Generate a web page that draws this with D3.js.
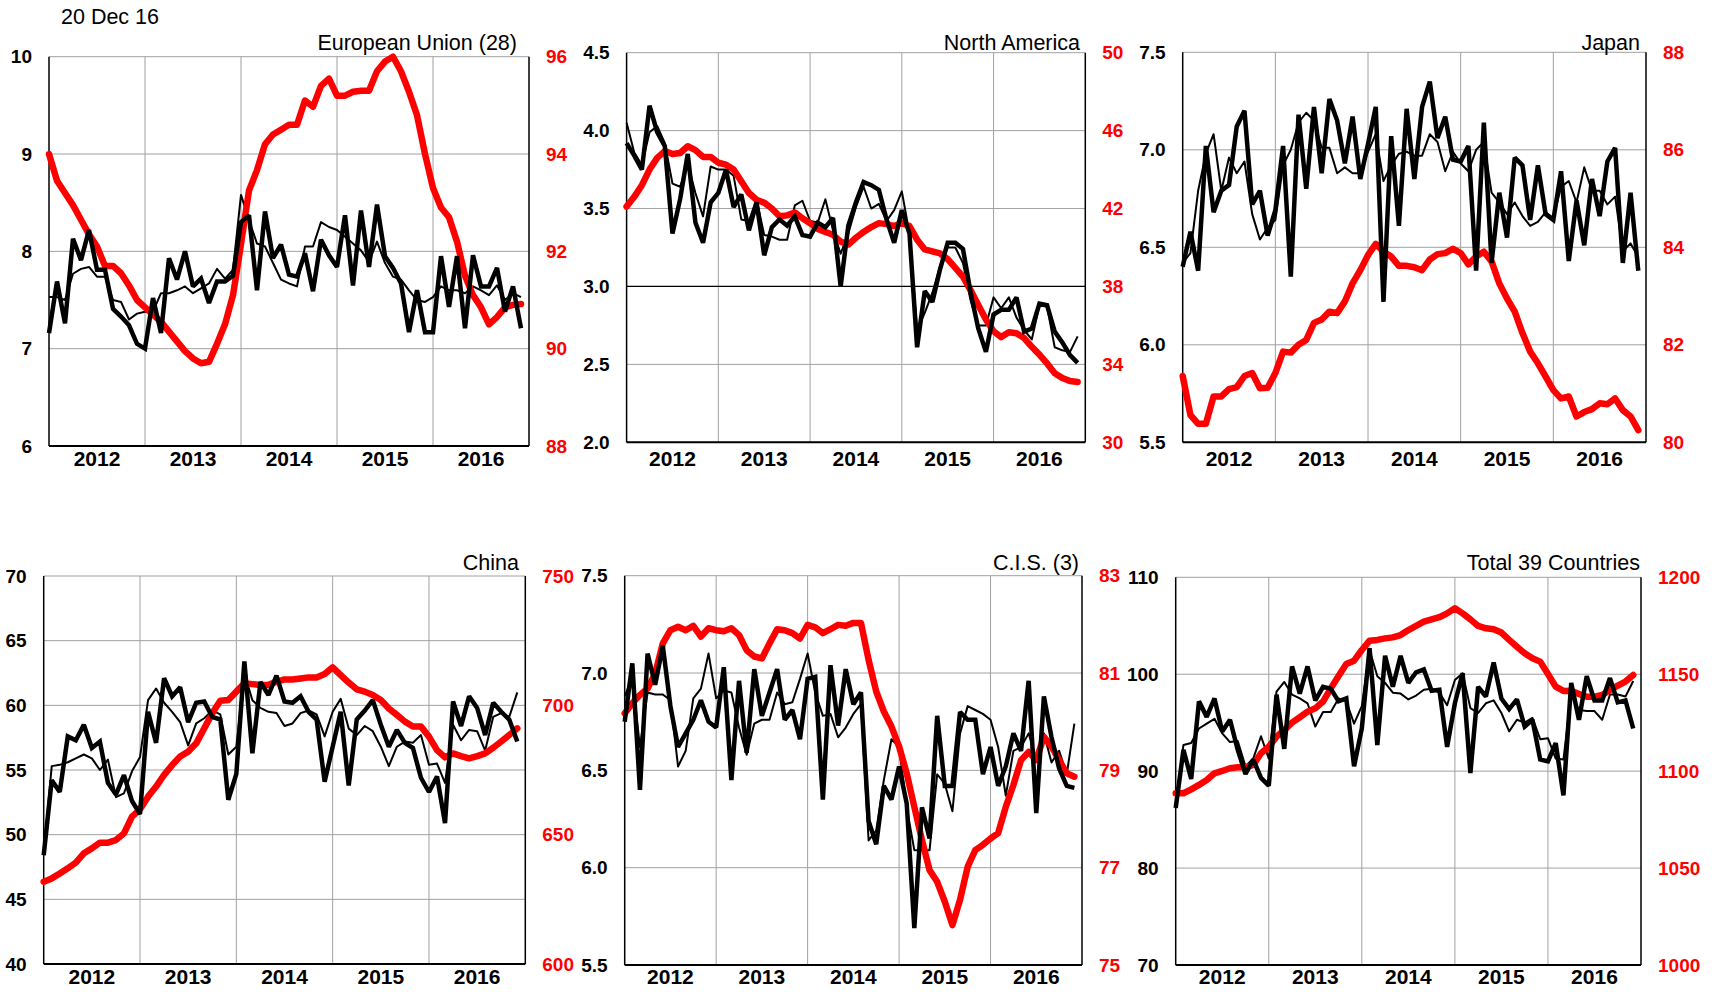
<!DOCTYPE html>
<html><head>
<meta charset="utf-8"/>
<title>Regional panels</title>
<script src="https://d3js.org/d3.v7.min.js"></script>
<style>
  body { margin: 0; padding: 0; background: #fff; width: 1715px; height: 992px; overflow: hidden; }
  svg { font-family: 'Liberation Sans', Arial, sans-serif; }
  .tick-l { font-size: 19px; font-weight: bold; fill: #000; }
  .tick-r { font-size: 19px; font-weight: bold; fill: #ff0000; }
  .year { font-size: 21px; font-weight: bold; fill: #000; }
  .title { font-size: 21.5px; fill: #000; }
</style>
</head>
<body>
<div id="chart"></div>
<script>
// x categories: 60 monthly points, gridlines at year starts
const years = ["2012", "2013", "2014", "2015", "2016"];
const stamp = "20 Dec 16";

// European Union (28)
const euMonthly = [7.16,7.69,7.26,8.13,7.91,8.22,7.81,7.81,7.41,7.33,
  7.24,7.05,7.0,7.52,7.16,7.93,7.71,8.0,7.64,7.72,
  7.47,7.69,7.69,7.75,8.3,8.37,7.6,8.41,7.93,8.07,
  7.76,7.74,7.98,7.59,8.12,7.96,7.84,8.37,7.65,8.42,
  7.84,8.48,7.95,7.83,7.67,7.17,7.6,7.17,7.17,7.95,
  7.43,7.95,7.21,7.96,7.64,7.64,7.83,7.38,7.64,7.21];
const euSA = [7.53,7.53,7.5,7.77,7.82,7.84,7.74,7.74,7.5,7.48,
  7.3,7.36,7.38,7.38,7.57,7.57,7.6,7.64,7.57,7.62,
  7.67,7.82,7.72,7.81,8.58,8.32,8.08,8.05,7.88,7.71,
  7.67,7.64,8.05,8.05,8.3,8.25,8.22,8.15,8.08,8.01,
  7.89,8.1,7.88,7.74,7.71,7.6,7.5,7.48,7.53,7.64,
  7.6,7.6,7.57,7.64,7.6,7.55,7.65,7.5,7.57,7.53];
const euRolling = [94.0,93.45,93.2,92.95,92.65,92.35,92.1,91.7,91.7,91.55,
  91.3,91.0,90.85,90.7,90.55,90.35,90.15,89.95,89.8,89.7,
  89.73,90.1,90.5,91.1,92.15,93.25,93.67,94.2,94.4,94.5,
  94.6,94.6,95.1,94.97,95.4,95.55,95.2,95.2,95.28,95.3,
  95.3,95.7,95.9,96.0,95.7,95.28,94.8,94.0,93.3,92.9,
  92.7,92.2,91.5,91.1,90.85,90.5,90.65,90.85,90.9,90.92];

// North America
const naMonthly = [3.92,3.84,3.75,4.16,3.99,3.9,3.34,3.56,3.85,3.41,
  3.28,3.54,3.6,3.75,3.51,3.59,3.36,3.54,3.2,3.38,
  3.43,3.39,3.45,3.33,3.32,3.41,3.38,3.44,3.0,3.39,
  3.54,3.67,3.65,3.62,3.43,3.28,3.49,3.34,2.61,2.97,
  2.9,3.11,3.28,3.28,3.24,2.96,2.73,2.58,2.82,2.85,
  2.85,2.93,2.71,2.73,2.89,2.88,2.71,2.64,2.56,2.51];
const naSA = [4.05,3.86,3.78,3.99,4.03,3.92,3.66,3.64,3.79,3.6,
  3.45,3.77,3.75,3.75,3.71,3.43,3.42,3.56,3.33,3.32,
  3.3,3.3,3.52,3.55,3.42,3.41,3.56,3.36,3.21,3.34,
  3.51,3.64,3.5,3.53,3.42,3.49,3.61,3.34,2.72,2.83,
  2.96,3.13,3.25,3.25,3.15,2.91,2.75,2.75,2.93,2.86,
  2.93,2.8,2.72,2.66,2.88,2.87,2.61,2.59,2.58,2.68];
const naRolling = [42.1,42.6,43.2,44.0,44.6,44.95,44.8,44.85,45.2,45.0,
  44.65,44.65,44.35,44.25,44.0,43.4,42.8,42.45,42.3,42.0,
  41.6,41.65,41.8,41.5,41.25,40.95,40.8,40.65,40.3,40.15,
  40.5,40.8,41.05,41.25,41.2,41.1,41.25,41.1,40.4,39.9,
  39.8,39.7,39.4,38.95,38.5,37.8,37.05,36.3,35.7,35.4,
  35.65,35.6,35.35,34.9,34.5,34.05,33.55,33.3,33.15,33.1];

// Japan
const jpMonthly = [6.4,6.58,6.38,7.02,6.68,6.79,6.82,7.12,7.2,6.72,
  6.79,6.56,6.69,7.02,6.35,7.18,6.8,7.22,6.88,7.26,
  7.15,6.93,7.17,6.85,7.03,7.22,6.22,7.07,6.61,7.21,
  6.85,7.22,7.35,7.06,7.17,6.95,6.94,7.02,6.38,7.14,
  6.42,6.78,6.55,6.96,6.92,6.64,6.92,6.67,6.64,6.89,
  6.43,6.74,6.51,6.85,6.66,6.94,7.01,6.42,6.78,6.38];
const jpSA = [6.42,6.47,6.79,6.98,7.08,6.79,6.96,6.88,6.94,6.67,
  6.54,6.6,6.64,6.92,7.0,7.14,7.19,7.15,7.01,7.01,
  6.88,6.91,6.88,6.88,6.99,7.08,6.84,6.92,6.98,6.99,
  6.97,6.97,7.08,7.04,6.89,6.99,6.93,6.89,7.0,7.04,
  6.78,6.73,6.67,6.73,6.66,6.61,6.63,6.68,6.65,6.81,
  6.84,6.73,6.91,6.79,6.79,6.72,6.76,6.48,6.52,6.45];
const jpRolling = [81.36,80.56,80.38,80.38,80.94,80.94,81.09,81.13,81.36,81.42,
  81.11,81.12,81.42,81.86,81.84,82.0,82.1,82.45,82.52,82.68,
  82.65,82.89,83.26,83.53,83.84,84.07,83.91,83.81,83.62,83.62,
  83.59,83.53,83.75,83.86,83.88,83.97,83.88,83.65,83.81,83.91,
  83.71,83.26,82.95,82.68,82.24,81.86,81.62,81.35,81.07,80.9,
  80.94,80.53,80.62,80.68,80.8,80.78,80.9,80.66,80.53,80.25];

// China
const cnMonthly = [48.4,54.2,53.3,57.6,57.3,58.5,56.7,57.2,54.0,53.1,
  54.6,52.6,51.6,59.5,57.1,62.1,60.7,61.4,58.7,60.2,
  60.3,59.1,58.9,52.7,54.7,63.4,56.3,61.8,60.8,62.3,
  60.3,60.2,60.7,59.5,58.9,54.1,56.8,59.5,53.8,58.9,
  59.6,60.4,58.5,56.8,58.1,57.1,56.7,54.4,53.3,54.5,
  50.9,60.3,58.4,60.7,59.8,57.7,60.2,59.5,58.9,57.2];
const cnSA = [48.5,55.3,55.4,55.6,55.9,56.2,55.9,55.0,55.8,52.9,
  53.2,54.9,56.0,60.4,61.3,60.2,59.5,58.7,56.9,58.6,
  59.0,59.6,59.3,56.2,56.8,62.5,60.4,59.8,59.5,59.4,
  58.4,58.6,59.4,59.6,59.3,57.6,59.5,60.5,58.2,57.7,
  58.4,58.0,56.8,55.3,56.8,57.2,57.1,57.7,55.4,55.5,
  54.0,58.5,57.3,58.1,58.0,56.5,59.1,59.4,59.1,61.0];
const cnRolling = [631.8,633.1,635,637,639.2,642.8,644.7,646.9,646.9,647.9,
  650.5,657,659.8,664.7,668.6,673.1,676.9,680.2,682.1,685.3,
  691.1,696.9,701.8,702.1,705.3,708.5,708.2,707.9,707.9,709.1,
  710,710,710.4,710.8,710.8,712.1,714.7,711.7,708.8,706.2,
  705.3,704,702.1,698.8,696.3,693.7,691.8,691.8,687.9,682.7,
  679.9,681.4,680.4,679.5,680.4,681.4,683.6,686,688.5,691.1];

// C.I.S. (3)
const cisMonthly = [6.75,7.05,6.4,7.1,6.94,7.14,6.83,6.62,6.69,6.76,
  6.86,6.75,6.72,7.03,6.45,6.96,6.59,7.02,6.78,6.9,
  7.02,6.76,6.81,6.66,6.97,6.98,6.35,7.04,6.73,7.02,
  6.84,6.9,6.24,6.12,6.42,6.35,6.52,6.33,5.69,6.31,
  6.15,6.78,6.42,6.42,6.8,6.76,6.76,6.48,6.62,6.42,
  6.52,6.69,6.6,6.96,6.28,6.88,6.67,6.51,6.42,6.41];
const cisSA = [6.88,6.98,6.62,6.9,6.89,6.89,6.86,6.52,6.6,6.87,
  6.92,7.1,6.87,6.91,6.9,6.72,6.58,6.74,6.76,6.76,
  6.9,6.84,6.85,6.97,7.1,6.9,6.78,6.79,6.67,6.72,
  6.79,6.84,6.14,6.19,6.45,6.66,6.62,6.31,6.09,6.09,
  6.09,6.48,6.43,6.29,6.69,6.83,6.81,6.79,6.76,6.62,
  6.37,6.6,6.62,6.69,6.56,6.69,6.54,6.6,6.48,6.74];
const cisRolling = [80.17,80.38,80.55,80.68,80.99,81.61,81.88,81.95,81.88,81.97,
  81.75,81.92,81.88,81.86,81.92,81.78,81.47,81.34,81.3,81.61,
  81.9,81.88,81.82,81.71,81.99,81.94,81.82,81.9,81.99,81.97,
  82.03,82.03,81.27,80.62,80.21,79.9,79.49,78.94,78.25,77.57,
  76.95,76.71,76.3,75.82,76.34,77.02,77.36,77.47,77.6,77.71,
  78.25,78.7,79.21,79.38,79.21,79.69,79.49,79.21,78.94,78.87];

// Total 39 Countries
const totMonthly = [86.2,92.2,89.2,97.2,95.6,97.5,94.1,95.3,92.2,89.7,
  91.2,89.3,88.5,97.9,92.3,100.8,98.0,100.8,97.3,98.7,
  98.5,97.2,97.5,90.5,94.4,102.7,92.7,101.9,98.7,101.9,
  99.1,100.2,100.5,98.3,98.4,92.5,97.0,100.1,89.8,98.7,
  97.7,101.2,97.5,96.4,97.4,94.6,95.3,91.2,91.0,92.9,
  87.5,99.1,95.3,99.8,97.3,97.3,99.6,97.1,97.3,94.4];
const totSA = [86.5,92.7,92.9,94.4,94.9,95.4,93.9,93.0,93.1,90.5,
  91.3,93.6,91.3,98.2,99.2,97.9,97.5,97.0,94.6,96.1,
  96.1,97.5,97.2,94.9,96.7,102.5,99.8,99.1,98.1,98.0,
  97.4,97.8,98.4,98.5,98.1,96.8,99.4,100.1,96.5,96.0,
  97.0,97.3,96.0,94.1,95.3,95.0,95.5,93.3,93.4,91.3,
  91.2,98.0,96.3,96.2,96.2,95.3,97.9,97.9,97.7,99.3];
const totRolling = [1088.6,1088.6,1090.6,1092.9,1095.4,1098.9,1100.1,1101.5,1102.0,1102.0,
  1103.2,1109.2,1112.6,1117.8,1121.2,1125.0,1127.8,1130.7,1132.4,1135.9,
  1142.7,1149.1,1155.3,1157.0,1162.5,1167.3,1167.7,1168.5,1169.0,1170.2,
  1172.8,1174.9,1177.1,1178.3,1179.4,1181.4,1184.0,1181.4,1178.3,1174.9,
  1173.7,1173.2,1171.5,1167.7,1164.2,1160.8,1158.2,1156.5,1150.1,1143.6,
  1141.4,1141.5,1139.8,1138.4,1138.4,1139.3,1141.9,1144.1,1146.2,1149.6];

// axis ranges per panel: [min, max, step]
const euLeft = [6, 10, 1], euRight = [88, 96, 2];
const naLeft = [2.0, 4.5, 0.5], naRight = [30, 50, 4];
const jpLeft = [5.5, 7.5, 0.5], jpRight = [80, 88, 2];
const cnLeft = [40, 70, 5], cnRight = [600, 750, 50];
const cisLeft = [5.5, 7.5, 0.5], cisRight = [75, 83, 2];
const totLeft = [70, 110, 10], totRight = [1000, 1200, 50];

// box = [left, right, top, bottom]; titleX/titleY = title anchor; yearY = year label baseline
const panels = [
  {title: "European Union (28)", box: [49, 529, 56.7, 446], titleX: 517, titleY: 50, yearY: 465.5,
   yl: euLeft, yr: euRight, fmt: d3.format("d"), monthly: euMonthly, sa: euSA, rolling: euRolling},
  {title: "North America", box: [626.6, 1085.3, 52.7, 442.3], titleX: 1080, titleY: 50, yearY: 465.5,
   yl: naLeft, yr: naRight, fmt: d3.format(".1f"), monthly: naMonthly, sa: naSA, rolling: naRolling, refLine: 3.0},
  {title: "Japan", box: [1182.7, 1646, 52.3, 442.3], titleX: 1640, titleY: 50, yearY: 465.5,
   yl: jpLeft, yr: jpRight, fmt: d3.format(".1f"), monthly: jpMonthly, sa: jpSA, rolling: jpRolling},
  {title: "China", box: [43.7, 525.3, 576, 964], titleX: 519, titleY: 570, yearY: 984,
   yl: cnLeft, yr: cnRight, fmt: d3.format("d"), monthly: cnMonthly, sa: cnSA, rolling: cnRolling},
  {title: "C.I.S. (3)", box: [624.7, 1082, 575.7, 965], titleX: 1079, titleY: 570, yearY: 984,
   yl: cisLeft, yr: cisRight, fmt: d3.format(".1f"), monthly: cisMonthly, sa: cisSA, rolling: cisRolling},
  {title: "Total 39 Countries", box: [1175.7, 1641, 577.3, 965], titleX: 1640, titleY: 570, yearY: 984,
   yl: totLeft, yr: totRight, fmt: d3.format("d"), monthly: totMonthly, sa: totSA, rolling: totRolling}
];

const svg = d3.select("#chart").append("svg")
  .attr("width", 1715).attr("height", 992);

svg.append("text")
  .attr("class", "title")
  .attr("x", 61).attr("y", 24)
  .text(stamp);

function rangeTicks(spec) {
  const [lo, hi, step] = spec;
  return d3.range(0, Math.round((hi - lo) / step) + 1).map(k => lo + k * step);
}

panels.forEach(p => {
  const [x0, x1, y0, y1] = p.box;
  const x = d3.scaleLinear().domain([0, 60]).range([x0, x1]);
  const yL = d3.scaleLinear().domain([p.yl[0], p.yl[1]]).range([y1, y0]);
  const yR = d3.scaleLinear().domain([p.yr[0], p.yr[1]]).range([y1, y0]);
  const g = svg.append("g");

  // horizontal gridlines
  g.selectAll(".hgrid").data(rangeTicks(p.yl)).enter().append("line")
    .attr("x1", x0).attr("x2", x1)
    .attr("y1", d => yL(d)).attr("y2", d => yL(d))
    .attr("stroke", "#a0a0a0").attr("stroke-width", 1);

  // vertical gridlines at year boundaries
  g.selectAll(".vgrid").data([12, 24, 36, 48]).enter().append("line")
    .attr("x1", d => x(d)).attr("x2", d => x(d))
    .attr("y1", y0).attr("y2", y1)
    .attr("stroke", "#a0a0a0").attr("stroke-width", 1);

  if (p.refLine !== undefined) {
    g.append("line")
      .attr("x1", x0).attr("x2", x1)
      .attr("y1", yL(p.refLine)).attr("y2", yL(p.refLine))
      .attr("stroke", "#000").attr("stroke-width", 1.2);
  }

  // axes frame
  g.append("line").attr("x1", x0).attr("x2", x0).attr("y1", y0).attr("y2", y1)
    .attr("stroke", "#000").attr("stroke-width", 1.5);
  g.append("line").attr("x1", x1).attr("x2", x1).attr("y1", y0).attr("y2", y1)
    .attr("stroke", "#000").attr("stroke-width", 1.5);
  g.append("line").attr("x1", x0).attr("x2", x1).attr("y1", y1).attr("y2", y1)
    .attr("stroke", "#000").attr("stroke-width", 2);

  // left tick labels
  g.selectAll(".tl").data(rangeTicks(p.yl)).enter().append("text")
    .attr("class", "tick-l")
    .attr("x", x0 - 17).attr("y", d => yL(d))
    .attr("dy", "0.35em").attr("text-anchor", "end")
    .text(d => p.fmt(d));

  // right tick labels
  g.selectAll(".tr").data(rangeTicks(p.yr)).enter().append("text")
    .attr("class", "tick-r")
    .attr("x", x1 + 17).attr("y", d => yR(d))
    .attr("dy", "0.35em").attr("text-anchor", "start")
    .text(d => d3.format("d")(d));

  // year labels
  g.selectAll(".yr").data(years).enter().append("text")
    .attr("class", "year")
    .attr("x", (d, i) => x(i * 12 + 6)).attr("y", p.yearY)
    .attr("text-anchor", "middle")
    .text(d => d);

  // title
  g.append("text").attr("class", "title")
    .attr("x", p.titleX).attr("y", p.titleY)
    .attr("text-anchor", "end")
    .text(p.title);

  const lineL = d3.line().x((d, i) => x(i)).y(d => yL(d));
  const lineR = d3.line().x((d, i) => x(i)).y(d => yR(d));

  g.append("path").datum(p.sa)
    .attr("fill", "none").attr("stroke", "#000").attr("stroke-width", 2)
    .attr("stroke-linejoin", "round").attr("d", lineL);
  g.append("path").datum(p.rolling)
    .attr("fill", "none").attr("stroke", "#ff0000").attr("stroke-width", 6.5)
    .attr("stroke-linejoin", "round").attr("stroke-linecap", "round").attr("d", lineR);
  g.append("path").datum(p.monthly)
    .attr("fill", "none").attr("stroke", "#000").attr("stroke-width", 4.5)
    .attr("stroke-linejoin", "miter").attr("stroke-miterlimit", 2).attr("d", lineL);
});
</script>
</body></html>
